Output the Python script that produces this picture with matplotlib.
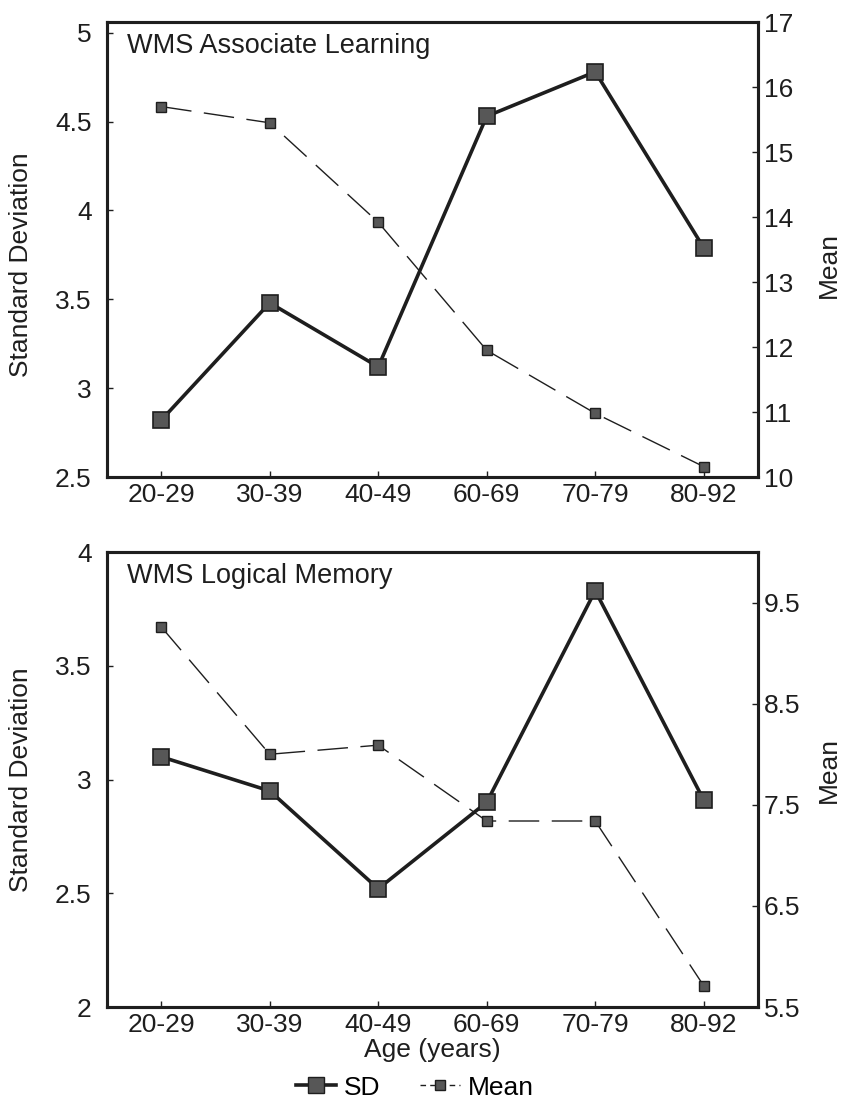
#!/usr/bin/env python3
"""SD and mean of two WMS subtests across age groups (two stacked dual-axis panels)."""

from __future__ import annotations

import matplotlib

matplotlib.use("Agg")
import matplotlib.pyplot as plt
from matplotlib.lines import Line2D
from matplotlib.ticker import FuncFormatter

age_groups = ["20-29", "30-39", "40-49", "60-69", "70-79", "80-92"]

assoc_sd = [2.82, 3.48, 3.12, 4.53, 4.78, 3.79]
assoc_mean = [15.70, 15.45, 13.92, 11.95, 10.98, 10.16]

logical_sd = [3.10, 2.95, 2.52, 2.90, 3.83, 2.91]
logical_mean = [9.26, 8.00, 8.09, 7.34, 7.34, 5.71]

assoc_sd_ticks = [2.5, 3, 3.5, 4, 4.5, 5]
assoc_mean_ticks = [10, 11, 12, 13, 14, 15, 16, 17]
logical_sd_ticks = [2, 2.5, 3, 3.5, 4]
logical_mean_ticks = [5.5, 6.5, 7.5, 8.5, 9.5]

FONT = "Liberation Sans"
FS = 19
INK = "#1e1e1e"
FILL = "#575757"


def style_axis(ax, side_pad):
    for sp in ax.spines.values():
        sp.set_linewidth(2.2)
        sp.set_color(INK)
    ax.tick_params(direction="in", length=4, width=1, colors=INK,
                   labelsize=FS, pad=side_pad)
    for lab in ax.get_xticklabels() + ax.get_yticklabels():
        lab.set_fontfamily(FONT)


def draw_panel(ax, title, sd, mean, sd_lim, sd_ticks, mean_lim, mean_ticks, label_y):
    x = list(range(len(age_groups)))
    ax2 = ax.twinx()

    ax2.plot(x, mean, color=INK, lw=1.0, dashes=(22, 9), marker="s", ms=6.5,
             mfc=FILL, mec=INK, mew=1.0, zorder=2)
    ax.plot(x, sd, color=INK, lw=2.6, marker="s", ms=11,
            mfc=FILL, mec=INK, mew=1.2, zorder=3)

    ax.set_xlim(-0.5, 5.5)
    ax.set_xticks(x)
    ax.set_xticklabels(age_groups)
    ax.set_ylim(*sd_lim)
    ax.set_yticks(sd_ticks)
    ax2.set_ylim(*mean_lim)
    ax2.set_yticks(mean_ticks)
    fmt = FuncFormatter(lambda v, _: f"{v:g}")
    ax.yaxis.set_major_formatter(fmt)
    ax2.yaxis.set_major_formatter(fmt)

    style_axis(ax, 11)
    ax.tick_params(axis="x", pad=4)
    style_axis(ax2, 4)

    ax.set_ylabel("Standard Deviation", fontsize=FS, fontfamily=FONT, color=INK)
    ax.yaxis.set_label_coords(-0.113, label_y[0])
    ax2.set_ylabel("Mean", fontsize=FS, fontfamily=FONT, color=INK)
    ax2.yaxis.set_label_coords(1.091, label_y[1])

    ax.text(0.031, 0.932, title, transform=ax.transAxes, fontsize=19.5,
            fontfamily=FONT, color=INK, va="baseline", ha="left")
    return ax2


def main() -> None:
    fig = plt.figure(figsize=(8.47, 11.03), dpi=100)

    ax_top = fig.add_axes([0.1263, 0.5675, 0.7686, 0.4125])
    ax_bot = fig.add_axes([0.1263, 0.0870, 0.7686, 0.4125])

    draw_panel(ax_top, "WMS Associate Learning", assoc_sd, assoc_mean,
               (2.5, 5.06), assoc_sd_ticks, (10, 17), assoc_mean_ticks,
               (0.466, 0.466))
    draw_panel(ax_bot, "WMS Logical Memory", logical_sd, logical_mean,
               (2, 4), logical_sd_ticks, (5.5, 10), logical_mean_ticks,
               (0.5, 0.52))

    ax_bot.set_xlabel("Age (years)", fontsize=FS, fontfamily=FONT, color=INK,
                      labelpad=1)

    handles = [
        Line2D([], [], color=INK, lw=2.6, marker="s", ms=11, mfc=FILL, mec=INK),
        Line2D([], [], color=INK, lw=1.0, dashes=(4, 3), marker="s", ms=6.5,
               mfc=FILL, mec=INK),
    ]
    fig.legend(handles, ["SD", "Mean"], loc="center", bbox_to_anchor=(0.49, 0.014),
               ncol=2, frameon=False, handlelength=1.5, handletextpad=0.3,
               columnspacing=1.5, borderpad=0,
               prop={"family": FONT, "size": FS})

    fig.savefig("out.png", dpi=100, facecolor="white")
    plt.close(fig)


if __name__ == "__main__":
    main()
